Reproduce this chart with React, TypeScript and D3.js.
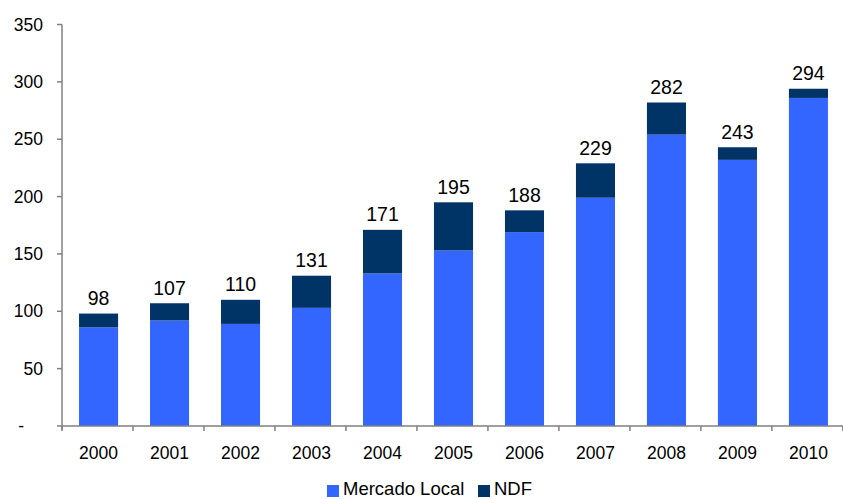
import { useEffect, useRef } from "react";
import * as d3 from "d3";

const years = ["2000", "2001", "2002", "2003", "2004", "2005", "2006", "2007", "2008", "2009", "2010"];
const mercadoLocal = [86, 92, 89, 103, 133, 153, 169, 199, 254, 232, 286];
const ndf = [12, 15, 21, 28, 38, 42, 19, 30, 28, 11, 8];
const yTicks = [0, 50, 100, 150, 200, 250, 300, 350];
const seriesNames = ["Mercado Local", "NDF"];
const seriesColors = ["#3366FF", "#003366"];

const W = 843;
const H = 499;
const FONT = "Liberation Sans, Arial, sans-serif";

export default function App() {
  const ref = useRef<SVGSVGElement | null>(null);

  useEffect(() => {
    const svgEl = ref.current;
    if (!svgEl) return;
    const svg = d3.select(svgEl);
    svg.selectAll("*").remove();

    const left = 62;
    const right = 845;
    const top = 24.5;
    const bottom = 426;

    const x = d3.scaleBand<string>().domain(years).range([left, right]).paddingInner(0.45).paddingOuter(0.24);
    const y = d3.scaleLinear().domain([0, 350]).range([bottom, top]);

    const rows = years.map((yr, i) => ({ year: yr, local: mercadoLocal[i], ndf: ndf[i] }));
    const stacked = d3.stack<(typeof rows)[number]>().keys(["local", "ndf"])(rows);

    // bars
    svg
      .append("g")
      .selectAll("g")
      .data(stacked)
      .join("g")
      .attr("fill", (_d, i) => seriesColors[i])
      .selectAll("rect")
      .data((s) => s)
      .join("rect")
      .attr("x", (d) => x(d.data.year) ?? 0)
      .attr("width", x.bandwidth())
      .attr("y", (d) => y(d[1]))
      .attr("height", (d) => y(d[0]) - y(d[1]));

    // total labels
    svg
      .append("g")
      .selectAll("text")
      .data(rows)
      .join("text")
      .attr("x", (d) => (x(d.year) ?? 0) + x.bandwidth() / 2)
      .attr("y", (d) => y(d.local + d.ndf) - 8.5)
      .attr("text-anchor", "middle")
      .style("font", `19.5px ${FONT}`)
      .attr("fill", "#000")
      .text((d) => d3.format("d")(d.local + d.ndf));

    // y axis
    const axisColor = "#808080";
    const yAxis = svg.append("g");
    yAxis
      .append("line")
      .attr("x1", left)
      .attr("x2", left)
      .attr("y1", y(350))
      .attr("y2", y(0) + 4)
      .attr("stroke", axisColor)
      .attr("stroke-width", 1.5);
    const yt = yAxis.selectAll("g").data(yTicks).join("g").attr("transform", (d) => `translate(0,${y(d)})`);
    yt.append("line").attr("x1", left - 5).attr("x2", left).attr("stroke", axisColor).attr("stroke-width", 1.5);
    yt.append("text")
      .attr("x", 43)
      .attr("dx", (d) => (d === 0 ? -19 : 0))
      .attr("dy", "0.35em")
      .attr("text-anchor", "end")
      .style("font", `17.5px ${FONT}`)
      .attr("fill", "#000")
      .text((d) => (d === 0 ? "-" : String(d)));

    // x axis
    const xAxis = svg.append("g");
    xAxis
      .append("line")
      .attr("x1", left)
      .attr("x2", right)
      .attr("y1", bottom)
      .attr("y2", bottom)
      .attr("stroke", axisColor)
      .attr("stroke-width", 1.5);
    const step = x.step();
    xAxis
      .selectAll("line.tick")
      .data(d3.range(years.length + 1))
      .join("line")
      .attr("class", "tick")
      .attr("x1", (i) => left + i * step)
      .attr("x2", (i) => left + i * step)
      .attr("y1", bottom)
      .attr("y2", bottom + 5)
      .attr("stroke", axisColor)
      .attr("stroke-width", 1.5);
    xAxis
      .selectAll("text")
      .data(years)
      .join("text")
      .attr("x", (d) => (x(d) ?? 0) + x.bandwidth() / 2)
      .attr("y", 459)
      .attr("text-anchor", "middle")
      .style("font", `17.5px ${FONT}`)
      .attr("fill", "#000")
      .text((d) => d);

    // legend
    const legendX = [327, 478];
    const lg = svg
      .append("g")
      .selectAll("g")
      .data(seriesNames)
      .join("g")
      .attr("transform", (_d, i) => `translate(${legendX[i]},485)`);
    lg.append("rect").attr("width", 12).attr("height", 12).attr("fill", (_d, i) => seriesColors[i]);
    lg.append("text")
      .attr("x", 16)
      .attr("y", 10)
      .style("font", `18.5px ${FONT}`)
      .attr("fill", "#000")
      .text((d) => d);
  }, []);

  return (
    <div style={{ position: "absolute", left: 0, top: 0 }}>
      <svg ref={ref} width={W} height={H} style={{ display: "block", background: "#fff" }} />
    </div>
  );
}
